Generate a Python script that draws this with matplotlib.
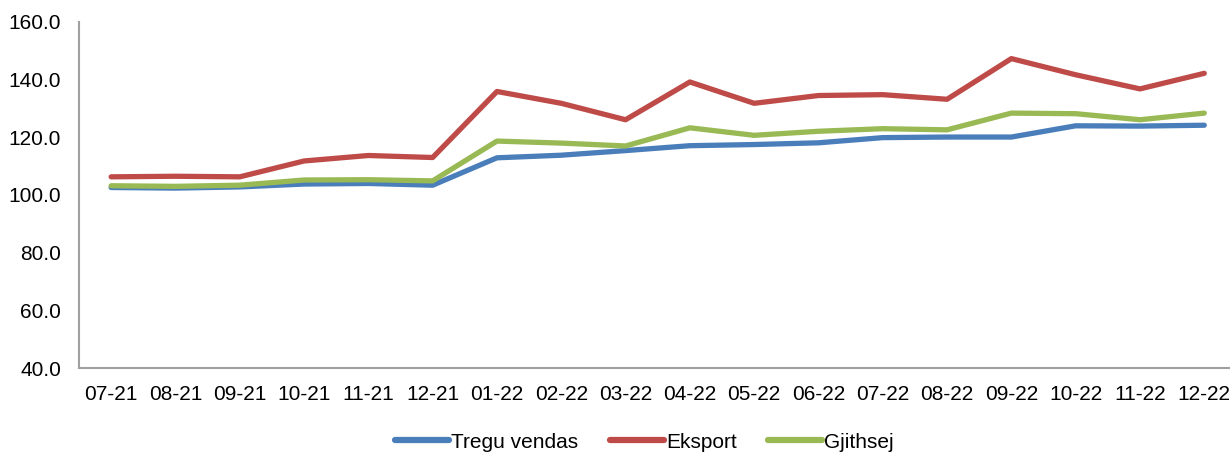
import numpy as np
import matplotlib
matplotlib.use('Agg')
import matplotlib.pyplot as plt

plt.rcParams['font.family'] = ['Liberation Sans', 'DejaVu Sans']

# Data
months = ['07-21', '08-21', '09-21', '10-21', '11-21', '12-21',
          '01-22', '02-22', '03-22', '04-22', '05-22', '06-22',
          '07-22', '08-22', '09-22', '10-22', '11-22', '12-22']
tregu_vendas = [102.6, 102.4, 102.8, 103.8, 104.0, 103.4,
                112.9, 113.8, 115.4, 117.1, 117.5, 118.1,
                119.9, 120.1, 120.1, 124.0, 123.9, 124.2]
eksport = [106.3, 106.5, 106.3, 111.8, 113.7, 113.0,
           135.9, 131.8, 126.1, 139.2, 131.8, 134.5,
           134.8, 133.2, 147.3, 141.7, 136.8, 142.2]
gjithsej = [103.2, 103.0, 103.4, 105.2, 105.3, 104.9,
            118.7, 118.0, 117.0, 123.3, 120.7, 122.1,
            123.0, 122.6, 128.4, 128.2, 126.1, 128.4]
y_ticks = [40, 60, 80, 100, 120, 140, 160]

fig = plt.figure(figsize=(12.3, 4.54), dpi=100)
ax = fig.add_axes([79 / 1230, 1 - 368 / 454, 1 - 79 / 1230, (368 - 22) / 454])

x = np.arange(len(months))
ax.plot(x, tregu_vendas, color='#4A7EBB', linewidth=3.8, label='Tregu vendas',
        solid_capstyle='round', solid_joinstyle='round')
ax.plot(x, eksport, color='#BE4B48', linewidth=3.8, label='Eksport',
        solid_capstyle='round', solid_joinstyle='round')
ax.plot(x, gjithsej, color='#98B954', linewidth=3.8, label='Gjithsej',
        solid_capstyle='round', solid_joinstyle='round')

ax.set_xlim(-0.5, len(months) - 0.6)
ax.set_ylim(40, 160)
ax.set_xticks(x)
ax.set_xticklabels(months)
ax.set_yticks(y_ticks)
ax.set_yticklabels([f'{v:.1f}' for v in y_ticks])
ax.tick_params(axis='both', length=0, labelsize=15)
ax.tick_params(axis='x', pad=12)
ax.tick_params(axis='y', pad=13)

for side in ['top', 'right']:
    ax.spines[side].set_visible(False)
for side in ['left', 'bottom']:
    ax.spines[side].set_color('#A0A0A0')
    ax.spines[side].set_linewidth(1.5)

leg = fig.legend(loc='center', bbox_to_anchor=(0.524, 0.026), ncol=3,
                 frameon=False, fontsize=15, handlelength=2.6,
                 handletextpad=0.1, columnspacing=1.5)
for line in leg.get_lines():
    line.set_linewidth(4.5)

plt.savefig('out.png', dpi=100)
